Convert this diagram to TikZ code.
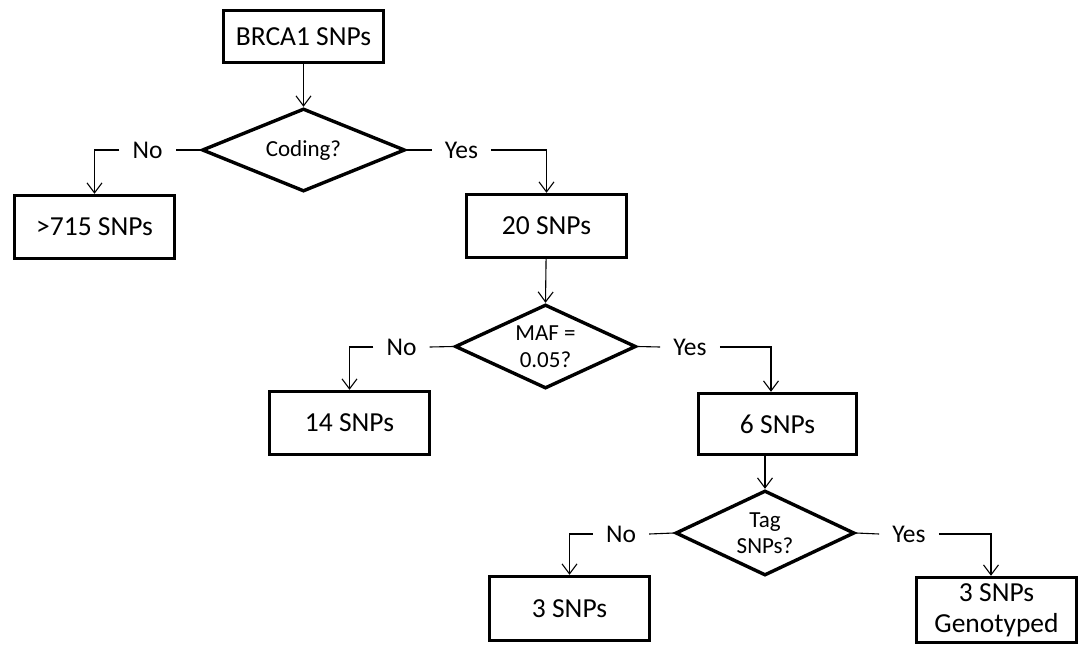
\documentclass[tikz,border=0pt]{standalone}
\usepackage{fontspec}
\setmainfont{Carlito}
\usetikzlibrary{shapes,arrows.meta}

\tikzset{
	snpbox/.style={draw, line width=3.4pt, minimum width=160pt, minimum height=63pt, inner sep=0pt, align=center, font=\fontsize{27.5}{31}\selectfont},
	question/.style={draw, diamond, line width=3.4pt, shape aspect=2.4, inner sep=0pt, align=center, font=\fontsize{23}{26.5}\selectfont},
	answer/.style={inner xsep=13pt, inner ysep=2pt, font=\fontsize{25.5}{28}\selectfont},
	link/.style={line width=1.1pt, -{Straight Barb[length=10pt,width=15pt]}}
}

\begin{document}
\begin{tikzpicture}[x=1pt, y=-1pt]
		
		\useasboundingbox (0,0) rectangle (1079,646);
		
		% boxes and questions
		\node[snpbox, minimum height=52pt] (brca) at (303.5,36.5) {BRCA1 SNPs};
		\node[question, minimum width=203pt, minimum height=83pt] (coding) at (303.5,150) {Coding?};
		\node[snpbox] (big) at (94.5,227) {>715 SNPs};
		\node[snpbox] (twenty) at (546.5,226) {20 SNPs};
		
		\node[question, minimum width=181pt, minimum height=84pt] (maf) at (545.5,346.5) {MAF =\\0.05?};
		\node[snpbox] (fourteen) at (349.5,423) {14 SNPs};
		\node[snpbox, minimum width=158pt, minimum height=61pt] (six) at (777.5,424) {6 SNPs};
		
		\node[question, minimum width=179pt, minimum height=85pt] (tag) at (765,533) {Tag\\SNPs?};
		\node[snpbox, minimum height=64pt] (three) at (569.5,608.5) {3 SNPs};
		\node[snpbox, minimum height=65pt] (geno) at (996.5,610) {3 SNPs\\Genotyped};
		
		% answers
		\node[answer] (no1) at (147.5,150) {No};
		\node[answer] (yes1) at (461.5,150) {Yes};
		\node[answer] (no2) at (401.5,347) {No};
		\node[answer] (yes2) at (690,347) {Yes};
		\node[answer] (no3) at (621,534) {No};
		\node[answer] (yes3) at (909,534) {Yes};
		
		% connectors
		\draw[link] (brca) -- (coding.north);
		\draw[line width=1.1pt] (coding.west) -- (no1.east);
		\draw[link] (no1) -| (big);
		\draw[line width=1.1pt] (coding.east) -- (yes1.west);
		\draw[link] (yes1) -| (twenty);
		
		\draw[link] (twenty) -- (maf.north);
		\draw[line width=1.1pt] (maf.west) -- (no2.east);
		\draw[link] (no2) -| (fourteen);
		\draw[line width=1.1pt] (maf.east) -- (yes2.west);
		\draw[link] (yes2) -| ([xshift=-6.5pt]six.north);
		
		\draw[link] ([xshift=-12.5pt]six.south) -- (tag.north);
		\draw[line width=1.1pt] (tag.west) -- (no3.east);
		\draw[link] (no3) -| (three);
		\draw[line width=1.1pt] (tag.east) -- (yes3.west);
		\draw[link] (yes3) -| ([xshift=-5.5pt]geno.north);
		
\end{tikzpicture}
\end{document}
